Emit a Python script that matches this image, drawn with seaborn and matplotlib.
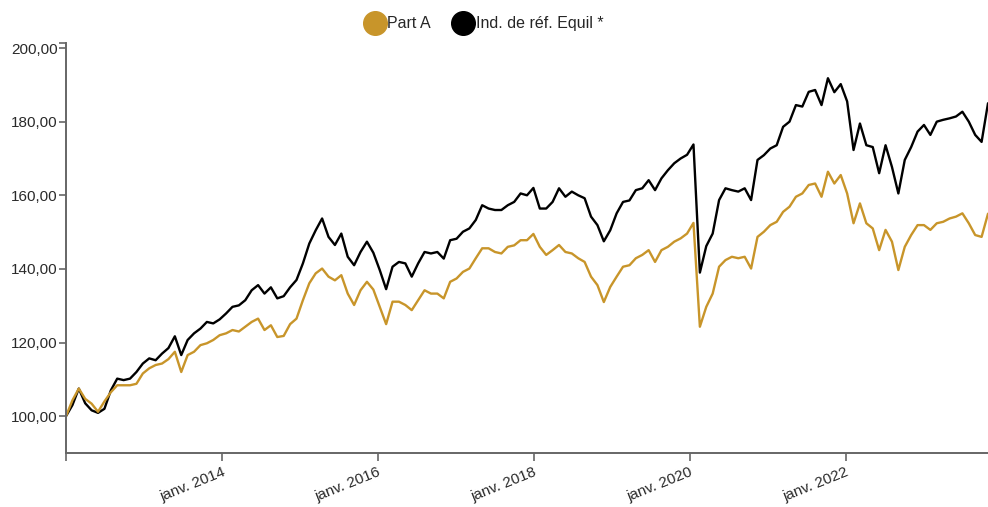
import pandas as pd
import matplotlib
matplotlib.use("Agg")
import matplotlib.pyplot as plt
from matplotlib.lines import Line2D
import seaborn as sns

# valeurs relevées environ tous les 30 jours depuis janv. 2012 (base 100)
part_a = [100, 104.3, 107.5, 104.7, 103.4, 101.2, 104, 106.5, 108.4, 108.4,
          108.4, 108.8, 111.6, 113, 113.9, 114.3, 115.5, 117.5, 112, 116.6,
          117.5, 119.3, 119.8, 120.7, 122, 122.5, 123.4, 123, 124.3, 125.6,
          126.5, 123.4, 124.7, 121.5, 121.8, 125, 126.5, 131.5, 136.1, 138.8,
          140.1, 137.9, 136.9, 138.3, 133.3, 130.2, 134.2, 136.5, 134.4, 129.7,
          125, 131.1, 131.1, 130.2, 128.8, 131.5, 134.2, 133.3, 133.3, 132,
          136.5, 137.4, 139.2, 140.1, 142.9, 145.6, 145.6, 144.6, 144.2, 146,
          146.4, 147.8, 147.8, 149.5, 146, 143.8, 145.1, 146.5, 144.6, 144.2,
          142.9, 141.9, 137.9, 135.6, 131, 135.1, 137.9, 140.6, 141, 142.9,
          143.8, 145.1, 141.9, 145.1, 146, 147.4, 148.3, 149.6, 152.5, 124.3,
          129.7, 133.3, 140.6, 142.4, 143.3, 142.9, 143.3, 140.1, 148.7, 150.1,
          151.9, 152.8, 155.5, 156.9, 159.6, 160.5, 162.8, 163.2, 159.6, 166.4,
          163.2, 165.5, 160.5, 152.4, 157.8, 152.4, 151, 145.1, 150.6, 147.4,
          139.7, 146, 149.2, 151.9, 151.9, 150.6, 152.4, 152.8, 153.7, 154.2,
          155.1, 152.4, 149.2, 148.7, 155]
indice = [100, 103, 107.5, 103.5, 101.6, 100.9, 102, 107, 110.2, 109.8,
          110.2, 112, 114.3, 115.7, 115.2, 117, 118.5, 121.7, 116.6, 120.7,
          122.5, 123.8, 125.6, 125.2, 126.3, 127.9, 129.7, 130.1, 131.5, 134.2,
          135.6, 133.3, 135, 132, 132.6, 135, 137, 141.5, 146.9, 150.5,
          153.7, 148.7, 146.5, 149.6, 143.3, 141, 144.6, 147.4, 144.4, 139.7,
          134.5, 140.6, 141.9, 141.5, 137.9, 141.5, 144.6, 144.2, 144.6, 142.8,
          147.8, 148.2, 150.1, 151, 153.3, 157.3, 156.4, 156, 156, 157.3,
          158.2, 160.5, 160, 162, 156.4, 156.4, 158.2, 161.9, 159.6, 161,
          160, 159.2, 154.2, 151.9, 147.5, 150.5, 155.1, 158.2, 158.6, 161.4,
          161.9, 164.1, 161.4, 164.6, 166.8, 168.7, 170, 171, 173.8, 139,
          146.2, 149.6, 158.7, 161.9, 161.4, 161, 161.9, 158.7, 169.6, 170.9,
          172.7, 173.6, 178.6, 180, 184.5, 184.1, 188.1, 188.6, 184.5, 191.8,
          188, 190.2, 185.5, 172.3, 179.5, 173.6, 173.1, 166, 173.6, 167.7,
          160.5, 169.6, 173.1, 177.3, 179.1, 176.4, 180, 180.5, 180.9, 181.4,
          182.7, 180, 176.4, 174.5, 185]

series_names = ["Part A", "Ind. de réf. Equil *"]
colors = ["#C8952A", "#000000"]
y_ticks = [100, 120, 140, 160, 180, 200]
y_labels = ["100,00", "120,00", "140,00", "160,00", "180,00", "200,00"]
x_ticks = ["2014-01-01", "2016-01-01", "2018-01-01", "2020-01-01", "2022-01-01"]
x_labels = ["janv. 2014", "janv. 2016", "janv. 2018", "janv. 2020", "janv. 2022"]

dates = pd.date_range("2012-01-01", periods=len(part_a), freq="30D")
n = len(dates)
df = pd.DataFrame({
    "date": list(dates) * 2,
    "valeur": indice + part_a,
    "serie": [series_names[1]] * n + [series_names[0]] * n,
})

sns.set_theme(style="white")
plt.rcParams["font.family"] = ["Liberation Sans", "DejaVu Sans"]

fig = plt.figure(figsize=(9.88, 5.07), dpi=100)
ax = fig.add_axes([66 / 988, 1 - 453 / 507, 1 - 66 / 988, (453 - 42.5) / 507])

sns.lineplot(data=df, x="date", y="valeur", hue="serie",
             hue_order=[series_names[1], series_names[0]],
             palette={series_names[0]: colors[0], series_names[1]: colors[1]},
             linewidth=1.7, legend=False, ax=ax)

ax.set_xlim(dates[0], dates[-1])
ax.set_ylim(90, 201.5)
ax.set_xlabel("")
ax.set_ylabel("")

spine_col = "#666666"
for side in ["top", "right"]:
    ax.spines[side].set_visible(False)
for side in ["left", "bottom"]:
    ax.spines[side].set_color(spine_col)
    ax.spines[side].set_linewidth(1.4)

ax.set_yticks(y_ticks)
ax.set_yticklabels(y_labels)
ax.set_yticks([201.5], minor=True)
ax.tick_params(axis="y", which="both", direction="out", length=5, width=1.2,
               color=spine_col, labelsize=11, labelcolor="#2a2a2a", pad=1, left=True)

xt = [dates[0]] + [pd.Timestamp(d) for d in x_ticks]
ax.set_xticks(xt)
ax.set_xticklabels([""] + x_labels, rotation=22, ha="right", rotation_mode="anchor")
ax.tick_params(axis="x", direction="out", length=6, width=1.2, color=spine_col,
               labelsize=11, labelcolor="#2a2a2a", pad=3, bottom=True)

handles = [Line2D([], [], linestyle="none", marker="o", markersize=17,
                  markerfacecolor=c, markeredgecolor=c) for c in colors]
fig.legend(handles, series_names, loc="center", bbox_to_anchor=(0.49, 0.953),
           ncol=2, frameon=False, fontsize=11.5, handlelength=1.2,
           handletextpad=0.2, columnspacing=1.4, borderaxespad=0)

fig.savefig("out.png", dpi=100)
